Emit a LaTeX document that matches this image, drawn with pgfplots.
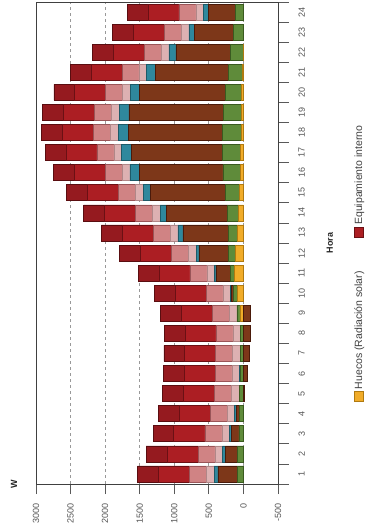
\documentclass[border=0pt]{standalone}
\usepackage{fontspec}
\setmainfont{Liberation Sans}
\usepackage{pgfplots}
\pgfplotsset{compat=1.18}
\usepackage{pgfplotstable}

\definecolor{cOr}{HTML}{F1AC29}\definecolor{cOrD}{HTML}{B07A10}
\definecolor{cGr}{HTML}{5F8B3A}\definecolor{cGrD}{HTML}{3A5A20}
\definecolor{cBr}{HTML}{7D3719}\definecolor{cBrD}{HTML}{4A1A0A}
\definecolor{cTe}{HTML}{2F889D}\definecolor{cTeD}{HTML}{1E5A68}
\definecolor{cLp}{HTML}{DDB1B2}\definecolor{cLpD}{HTML}{B08788}
\definecolor{cPk}{HTML}{D08384}\definecolor{cPkD}{HTML}{9A5558}
\definecolor{cRd}{HTML}{AC1E23}\definecolor{cRdD}{HTML}{6B1014}
\definecolor{cDr}{HTML}{951A1F}\definecolor{cDrD}{HTML}{5A0D10}
\definecolor{txt}{HTML}{555555}

\pgfplotstableread{
h orange green brown teal light pink red dred
1 0 92 277 53 112 245 450 300
2 0 82 174 44 112 245 450 300
3 0 65 111 24 112 245 450 300
4 0 58 48 19 112 245 450 300
5 0 60 0 0 112 245 450 300
6 0 48 0 6 112 245 450 300
7 4 40 0 0 112 245 450 300
8 4 36 0 0 112 245 450 300
9 50 45 0 0 112 245 450 300
10 92 53 24 15 112 245 450 300
11 126 68 203 19 112 245 450 300
12 116 97 431 39 112 245 450 300
13 92 126 658 73 112 245 450 300
14 68 169 876 92 112 245 450 300
15 53 213 1074 111 112 245 450 300
16 44 252 1214 131 112 245 450 300
17 39 266 1316 140 112 245 450 300
18 34 266 1365 145 112 245 450 300
19 24 266 1366 140 112 245 450 300
20 24 242 1234 135 112 245 450 300
21 15 208 1055 121 112 245 450 300
22 5 179 793 102 112 245 450 300
23 0 150 558 82 112 245 450 300
24 0 121 382 73 112 245 450 300
}\datatable

\pgfplotstableread{
h brown
5 -12
6 -53
7 -82
8 -106
9 -97
}\negtable

\pgfplotsset{
  common/.style={
    at={(36pt,48pt)}, anchor=south west,
    scale only axis, width=242pt, height=482pt,
    xmin=-500, xmax=3000, ymin=0.5, ymax=24.5,
    x dir=reverse, bar width=16pt,
  },
  seg/.style 2 args={fill=#1, draw=#2, line width=0.6pt},
}

\begin{document}
\begin{tikzpicture}
\path[use as bounding box] (0,0) rectangle (367pt,532pt);
\begin{axis}[common, xbar stacked,
  axis line style={black!75, line width=0.8pt},
  xtick={-500,0,...,3000},
  ytick={1,...,24},
  minor ytick={0.5,1.5,...,24.5},
  xtick pos=left, ytick pos=right, yticklabel pos=right,
  tick align=outside,
  major tick length=10pt, minor tick length=11pt,
  major y tick style={draw=none},
  tick style={black!65, line width=0.8pt},
  xmajorgrids,
  grid style={gray!80, dash pattern=on 3pt off 3pt, line width=0.9pt},
  /pgf/number format/assume math mode=true,
  /pgf/number format/set thousands separator={},
  tick label style={font=\fontsize{9}{10}\selectfont, text=txt},
  xticklabel style={rotate=90, anchor=east},
  yticklabel style={rotate=90, anchor=north},
  xticklabel shift=6pt, yticklabel shift=7pt,
  ylabel={Hora},
  ylabel style={font=\bfseries\fontsize{9}{10}\selectfont, text=black!85, yshift=-15pt},
  xlabel={W},
  xlabel style={at={(axis cs:3317,0.5)}, anchor=center, rotate=90, font=\bfseries\fontsize{9}{10}\selectfont, text=black!85},
  legend to name=leg,
  legend columns=2,
  legend style={draw=none, fill=none, inner sep=0pt,
    font=\fontsize{10.5}{12}\selectfont, text=black!75,
    /tikz/every even column/.append style={column sep=32pt}},
  legend image code/.code={\draw[#1, line width=0.6pt] (0pt,-4.5pt) rectangle (10pt,4.5pt);},
]
\addplot[seg={cOr}{cOrD}] table[x=orange, y=h] {\datatable};
\addlegendentry{Huecos (Radiación solar)}
\addplot[seg={cGr}{cGrD}, forget plot] table[x=green, y=h] {\datatable};
\addplot[seg={cBr}{cBrD}, forget plot] table[x=brown, y=h] {\datatable};
\addplot[seg={cTe}{cTeD}, forget plot] table[x=teal, y=h] {\datatable};
\addplot[seg={cLp}{cLpD}, forget plot] table[x=light, y=h] {\datatable};
\addplot[seg={cPk}{cPkD}, forget plot] table[x=pink, y=h] {\datatable};
\addplot[seg={cRd}{cRdD}] table[x=red, y=h] {\datatable};
\addlegendentry{Equipamiento interno}
\addplot[seg={cDr}{cDrD}, forget plot] table[x=dred, y=h] {\datatable};
\end{axis}
\begin{axis}[common, xbar, hide axis]
\addplot[seg={cBr}{cBrD}] table[x=brown, y=h] {\negtable};
\end{axis}
\node[rotate=90, anchor=west, inner sep=0pt] at (359pt,130pt) {\pgfplotslegendfromname{leg}};
\end{tikzpicture}
\end{document}
